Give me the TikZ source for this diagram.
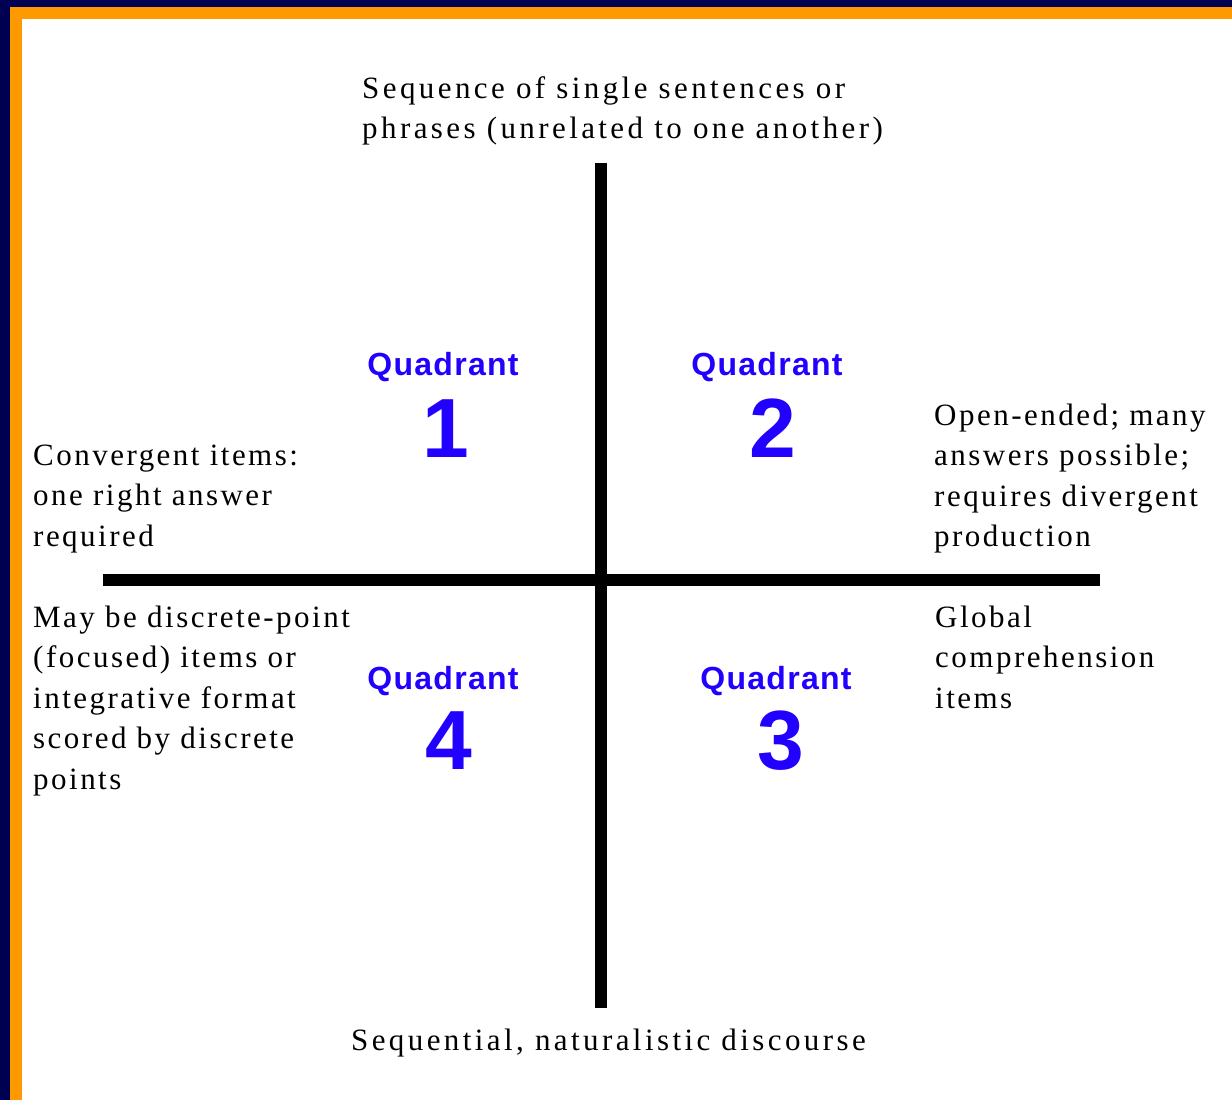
\documentclass[tikz,border=0pt]{standalone}
\usepackage{fontspec}
\setmainfont{Liberation Serif}
\newfontfamily\bodyfont[LetterSpace=8]{Liberation Serif}
\newfontfamily\widebodyfont[LetterSpace=11]{Liberation Serif}
\newfontfamily\quadfont[LetterSpace=4]{Liberation Sans}
\newfontfamily\numfont{Liberation Sans}
\definecolor{navyband}{RGB}{0,0,82}
\definecolor{orangeband}{RGB}{255,153,0}
\definecolor{qblue}{RGB}{34,0,255}
\newcommand{\linesblock}[1]{\begin{tabular}[t]{@{}l@{}}#1\end{tabular}}
\tikzset{
  bodytext/.style={font=\bodyfont\fontsize{31}{40.5}\selectfont, anchor=base west, inner sep=0pt},
  widetext/.style={font=\widebodyfont\fontsize{31}{40.5}\selectfont, anchor=base west, inner sep=0pt},
  quadword/.style={font=\quadfont\bfseries\fontsize{32}{32}\selectfont, text=qblue, anchor=base, inner sep=0pt},
  quadnum/.style={font=\numfont\bfseries\fontsize{84}{84}\selectfont, text=qblue, anchor=base, inner sep=0pt},
  axisline/.style={line width=12pt, line cap=butt, black}
}
\begin{document}
\begin{tikzpicture}[x=1pt,y=-1pt]
\useasboundingbox (0,0) rectangle (1232,1100);
% frame
\fill[navyband] (0,0) rectangle (1232,1100);
\fill[orangeband] (10,7) rectangle (1232,1100);
\fill[white] (22,19) rectangle (1232,1100);
% axes
\coordinate (axtop) at (601,163);
\coordinate (axbot) at (601,1008);
\coordinate (axleft) at (103,580);
\coordinate (axright) at (1100,580);
\draw[axisline] (axleft) -- (axright);
\draw[axisline] (axtop) -- (axbot);
% texts
\node[widetext] (toptext) at (362,98) {\linesblock{Sequence of single sentences or\\phrases (unrelated to one another)}};
\node[bodytext] (lefttext) at (33,465) {\linesblock{Convergent items:\\one right answer\\required}};
\node[bodytext] (righttext) at (934,425) {\linesblock{Open-ended; many\\answers possible;\\requires divergent\\production}};
\node[bodytext] (lowlefttext) at (33,627) {\linesblock{May be discrete-point\\(focused) items or\\integrative format\\scored by discrete\\points}};
\node[bodytext] (lowrighttext) at (935,627) {\linesblock{Global\\comprehension\\items}};
\node[widetext] (bottext) at (351,1050) {Sequential, naturalistic discourse};
% quadrants
\node[quadword] (q1w) at (443,375) {Quadrant};
\node[quadnum] (q1n) at (446,457) {1};
\node[quadword] (q2w) at (767,375) {Quadrant};
\node[quadnum] (q2n) at (773,457) {2};
\node[quadword] (q4w) at (443,689) {Quadrant};
\node[quadnum] (q4n) at (449,769) {4};
\node[quadword] (q3w) at (776,689) {Quadrant};
\node[quadnum] (q3n) at (781,769) {3};
\end{tikzpicture}
\end{document}
